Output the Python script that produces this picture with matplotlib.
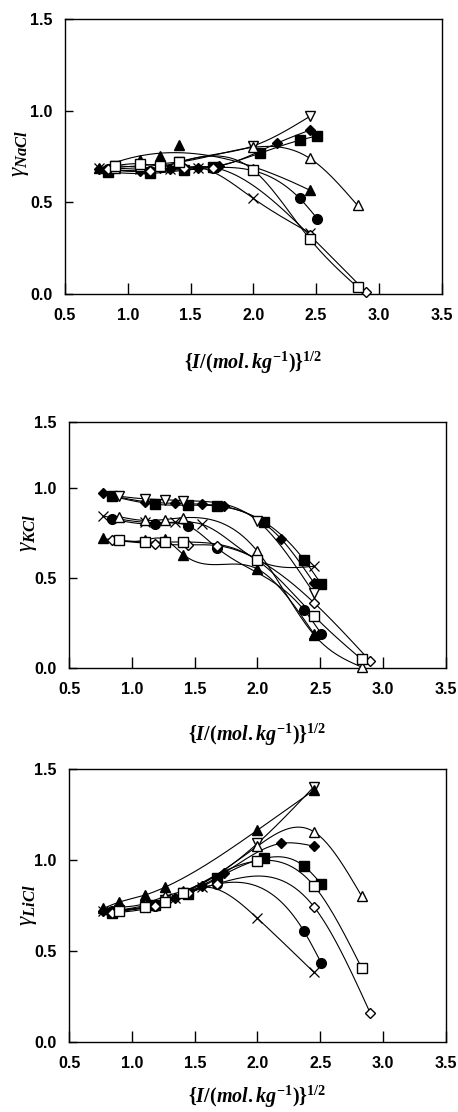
"""Activity coefficients of NaCl, KCl and LiCl against sqrt(ionic strength)."""

import matplotlib

matplotlib.use("Agg")

import matplotlib.pyplot as plt
import numpy as np

plt.rcParams["font.family"] = ["Liberation Sans", "DejaVu Sans"]
plt.rcParams["mathtext.fontset"] = "custom"
plt.rcParams["mathtext.it"] = "Liberation Serif:italic:bold"
plt.rcParams["mathtext.rm"] = "Liberation Serif:bold"
plt.rcParams["mathtext.bf"] = "Liberation Serif:italic:bold"
plt.rcParams["mathtext.sf"] = "Liberation Serif:italic"

# x values {I/(mol.kg-1)}^1/2 for each series
X_DIAMOND_F = [0.77, 1.10, 1.34, 1.56, 1.73, 2.19, 2.45]
X_SQUARE_F = [0.84, 1.18, 1.45, 1.68, 2.05, 2.37, 2.51]
X_TRIDOWN_O = [0.90, 1.10, 1.26, 1.41, 2.00, 2.45]
X_CROSS = [0.77, 1.10, 1.34, 1.56, 2.00, 2.45]
X_CIRCLE_F = [0.84, 1.18, 1.45, 1.68, 2.37, 2.51]
X_TRIUP_O = [0.90, 1.10, 1.26, 1.41, 2.00, 2.45, 2.83]
X_TRIUP_F = [0.77, 1.10, 1.26, 1.41, 2.00, 2.45]
X_TRIUP_F_LICL = [0.77, 0.90, 1.10, 1.26, 2.00, 2.45]
X_DIAMOND_O = [0.84, 1.18, 1.45, 1.68, 2.45, 2.90]
X_SQUARE_O = [0.90, 1.10, 1.26, 1.41, 2.00, 2.45, 2.83]

# gamma values, per salt
NACL = {
    "diamond_f": [0.68, 0.67, 0.68, 0.69, 0.70, 0.823, 0.894],
    "square_f": [0.665, 0.658, 0.675, 0.693, 0.768, 0.839, 0.863],
    "tridown_o": [0.70, 0.69, 0.69, 0.72, 0.808, 0.969],
    "cross": [0.69, 0.68, 0.68, 0.69, 0.521, 0.333],
    "circle_f": [0.68, 0.67, 0.68, 0.69, 0.521, 0.411],
    "triup_o": [0.69, 0.70, 0.71, 0.72, 0.80, 0.740, 0.483],
    "triup_f": [0.69, 0.73, 0.753, 0.812, 0.68, 0.57],
    "diamond_o": [0.68, 0.67, 0.69, 0.69, 0.32, 0.01],
    "square_o": [0.70, 0.71, 0.70, 0.72, 0.676, 0.30, 0.037],
}
KCL = {
    "diamond_f": [0.97, 0.925, 0.915, 0.91, 0.898, 0.716, 0.473],
    "square_f": [0.955, 0.91, 0.905, 0.90, 0.813, 0.602, 0.464],
    "tridown_o": [0.954, 0.94, 0.935, 0.93, 0.818, 0.415],
    "cross": [0.844, 0.81, 0.81, 0.798, 0.60, 0.565],
    "circle_f": [0.828, 0.80, 0.789, 0.666, 0.323, 0.189],
    "triup_o": [0.84, 0.82, 0.825, 0.835, 0.648, 0.185, 0.005],
    "triup_f": [0.72, 0.71, 0.715, 0.63, 0.55, 0.19],
    "diamond_o": [0.71, 0.69, 0.684, 0.68, 0.363, 0.037],
    "square_o": [0.71, 0.70, 0.70, 0.70, 0.598, 0.29, 0.048],
}
LICL = {
    "diamond_f": [0.72, 0.74, 0.79, 0.86, 0.927, 1.092, 1.077],
    "square_f": [0.71, 0.752, 0.813, 0.90, 1.009, 0.967, 0.868],
    "tridown_o": [0.725, 0.75, 0.783, 0.82, 1.092, 1.404],
    "cross": [0.72, 0.74, 0.79, 0.85, 0.679, 0.382],
    "circle_f": [0.72, 0.75, 0.82, 0.868, 0.609, 0.431],
    "triup_o": [0.74, 0.76, 0.80, 0.83, 1.077, 1.156, 0.802],
    "triup_f": [0.734, 0.769, 0.807, 0.85, 1.165, 1.385],
    "diamond_o": [0.71, 0.745, 0.82, 0.87, 0.743, 0.156],
    "square_o": [0.72, 0.74, 0.77, 0.82, 0.996, 0.859, 0.407],
}

X_BY_SERIES = {
    "diamond_f": X_DIAMOND_F,
    "square_f": X_SQUARE_F,
    "tridown_o": X_TRIDOWN_O,
    "cross": X_CROSS,
    "circle_f": X_CIRCLE_F,
    "triup_o": X_TRIUP_O,
    "triup_f": X_TRIUP_F,
    "diamond_o": X_DIAMOND_O,
    "square_o": X_SQUARE_O,
}

STYLES = {
    "diamond_f": dict(marker="D", ms=5.5, mfc="black"),
    "square_f": dict(marker="s", ms=7, mfc="black"),
    "tridown_o": dict(marker="v", ms=7.5, mfc="white"),
    "cross": dict(marker="x", ms=7, mfc="none", mew=0.9),
    "circle_f": dict(marker="o", ms=7, mfc="black"),
    "triup_o": dict(marker="^", ms=7.5, mfc="white"),
    "triup_f": dict(marker="^", ms=7.5, mfc="black"),
    "diamond_o": dict(marker="D", ms=5, mfc="white"),
    "square_o": dict(marker="s", ms=7, mfc="white"),
}


def _natural_spline(x, y, n=200):
    x = np.asarray(x, dtype=float)
    y = np.asarray(y, dtype=float)
    k = len(x)
    h = np.diff(x)
    a = np.zeros((k, k))
    b = np.zeros(k)
    a[0, 0] = a[-1, -1] = 1.0
    for i in range(1, k - 1):
        a[i, i - 1] = h[i - 1]
        a[i, i] = 2 * (h[i - 1] + h[i])
        a[i, i + 1] = h[i]
        b[i] = 3 * ((y[i + 1] - y[i]) / h[i] - (y[i] - y[i - 1]) / h[i - 1])
    c = np.linalg.solve(a, b)
    xs = np.linspace(x[0], x[-1], n)
    idx = np.clip(np.searchsorted(x, xs) - 1, 0, k - 2)
    dx = xs - x[idx]
    bc = (y[1:] - y[:-1]) / h - h * (2 * c[:-1] + c[1:]) / 3
    d = (c[1:] - c[:-1]) / (3 * h)
    ys = y[idx] + bc[idx] * dx + c[idx] * dx**2 + d[idx] * dx**3
    return xs, ys


def _cubic_fit(x, y, n=200):
    coef = np.polyfit(x, y, 3)
    xs = np.linspace(x[0], x[-1], n)
    return xs, np.polyval(coef, xs)


PANELS = [
    # data, x overrides, fitted (not interpolated) series, y label, axes rect,
    # y top, x-label y (axes frac), y-label x,y (axes frac)
    (NACL, {}, {"triup_f"}, r"$\mathsf{\gamma}_{NaCl}$",
     [0.1419, 0.7356, 0.8225, 0.2473], 1.5, -0.25, (-0.12, 0.51)),
    (KCL, {}, set(), r"$\mathsf{\gamma}_{KCl}$",
     [0.1513, 0.3993, 0.8218, 0.2212], 1.367, -0.272, (-0.11, 0.55)),
    (LICL, {"triup_f": X_TRIUP_F_LICL}, set(), r"$\mathsf{\gamma}_{LiCl}$",
     [0.1513, 0.0632, 0.8218, 0.2450], 1.5, -0.202, (-0.11, 0.5)),
]

fig = plt.figure(figsize=(4.58, 11.12), dpi=100)

for data, x_override, fitted, ylabel, rect, ytop, xlab_y, ylab_xy in PANELS:
    ax = fig.add_axes(rect)
    for key, yvals in data.items():
        xvals = x_override.get(key, X_BY_SERIES[key])
        if key in fitted:
            xs, ys = _cubic_fit(xvals, yvals)
        else:
            xs, ys = _natural_spline(xvals, yvals)
        ax.plot(xs, ys, color="black", linewidth=0.8, zorder=2)
    for key, yvals in data.items():
        xvals = x_override.get(key, X_BY_SERIES[key])
        ax.plot(xvals, yvals, linestyle="none", color="black", mec="black",
                zorder=3, clip_on=False, **STYLES[key])

    ax.set_xlim(0.5, 3.5)
    ax.set_ylim(0, ytop)
    ax.set_xticks([0.5, 1.0, 1.5, 2.0, 2.5, 3.0, 3.5])
    ax.set_xticklabels(["0.5", "1.0", "1.5", "2.0", "2.5", "3.0", "3.5"])
    ax.set_yticks([0.0, 0.5, 1.0, ytop])
    ax.set_yticklabels(["0.0", "0.5", "1.0", "1.5"])
    ax.tick_params(direction="in", length=8, width=1, pad=10, labelsize=11.5)
    ax.tick_params(axis="y", length=6, pad=9)
    for label in ax.get_xticklabels() + ax.get_yticklabels():
        label.set_fontweight("bold")
    for spine in ax.spines.values():
        spine.set_linewidth(1.0)

    ax.text(0.5, xlab_y, r"$\{I/(mol.kg^{-1})\}^{1/2}$", transform=ax.transAxes,
            ha="center", va="center", fontsize=14.5)
    ax.text(ylab_xy[0], ylab_xy[1], ylabel, transform=ax.transAxes, rotation=90,
            ha="center", va="center", fontsize=17)

fig.savefig("out.png", dpi=100)
